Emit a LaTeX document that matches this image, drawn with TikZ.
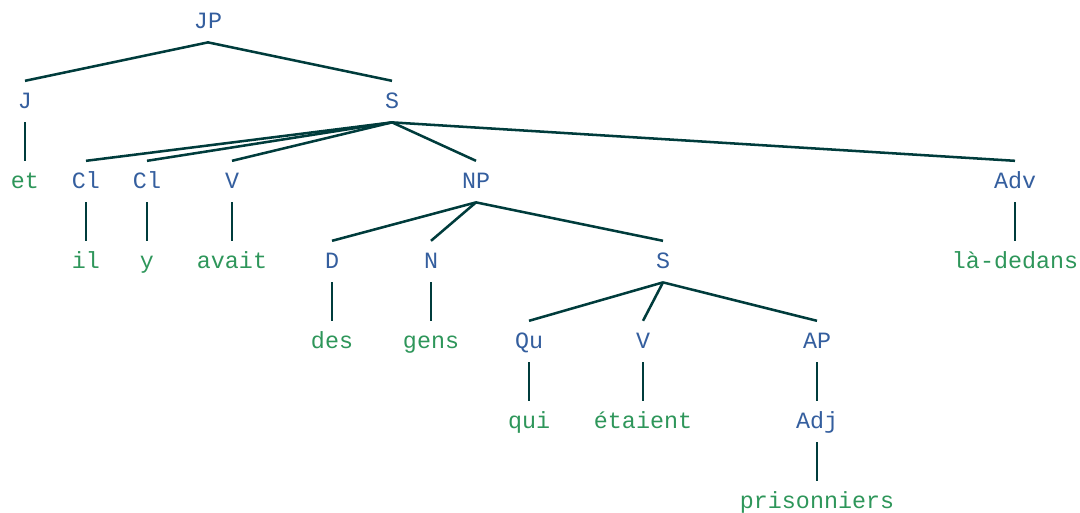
\documentclass[tikz,border=0pt]{standalone}
\usepackage{fontspec}
\setmonofont{Liberation Mono}
\usetikzlibrary{positioning}
\definecolor{catblue}{RGB}{52,94,158}
\definecolor{wordgreen}{RGB}{46,150,90}
\definecolor{branchcol}{RGB}{0,60,60}
\begin{document}
\begin{tikzpicture}[
            t/.style={inner xsep=0pt,inner ysep=0pt,text height=0.675cm,text depth=0.35cm,font=\fontsize{16.6}{20}\selectfont\ttfamily},
            cat/.style={t,text=catblue},
            word/.style={t,text=wordgreen},
            branch/.style={draw=branchcol,line width=1.8pt}
        ]

        \tikzset{
            node distance=20mm,
        }

        \useasboundingbox (0,0) rectangle (27,-12.825);

        \node[cat] (jp) at (5.2,-0.54) {JP};
        \node[cat,below of=jp,xshift=-45.75mm] (j) {J};
        \node[cat,below of=jp,xshift=46mm] (s) {S};
        \node[word,below of=j] (et) {et};
        \node[cat,below of=s,xshift=-76.5mm] (cl1) {Cl};
        \node[cat,below of=s,xshift=-61.25mm] (cl2) {Cl};
        \node[cat,below of=s,xshift=-40mm] (v) {V};
        \node[cat,below of=s,xshift=21mm] (np) {NP};
        \node[cat,below of=s,xshift=155.75mm] (adv) {Adv};
        \node[word,below of=cl1] (il) {il};
        \node[word,below of=cl2] (y) {y};
        \node[word,below of=v] (avait) {avait};
        \node[cat,below of=np,xshift=-36mm] (d) {D};
        \node[cat,below of=np,xshift=-11.25mm] (n) {N};
        \node[cat,below of=np,xshift=46.75mm] (s2) {S};
        \node[word,below of=adv] (ladedans) {là-dedans};
        \node[word,below of=d] (des) {des};
        \node[word,below of=n] (gens) {gens};
        \node[cat,below of=s2,xshift=-33.5mm] (qu) {Qu};
        \node[cat,below of=s2,xshift=-5mm] (v2) {V};
        \node[cat,below of=s2,xshift=38.5mm] (ap) {AP};
        \node[word,below of=qu] (qui) {qui};
        \node[word,below of=v2] (etaient) {étaient};
        \node[cat,below of=ap] (adj) {Adj};
        \node[word,below of=adj] (prisonniers) {prisonniers};

        \draw[branch]
            (jp.south) edge (j.north)
            (jp.south) edge (s.north)
            (j.south) edge (et.north)
            (s.south) edge (cl1.north)
            (s.south) edge (cl2.north)
            (s.south) edge (v.north)
            (s.south) edge (np.north)
            (s.south) edge (adv.north)
            (cl1.south) edge (il.north)
            (cl2.south) edge (y.north)
            (v.south) edge (avait.north)
            (np.south) edge (d.north)
            (np.south) edge (n.north)
            (np.south) edge (s2.north)
            (adv.south) edge (ladedans.north)
            (d.south) edge (des.north)
            (n.south) edge (gens.north)
            (s2.south) edge (qu.north)
            (s2.south) edge (v2.north)
            (s2.south) edge (ap.north)
            (qu.south) edge (qui.north)
            (v2.south) edge (etaient.north)
            (ap.south) edge (adj.north)
            (adj.south) edge (prisonniers.north)
        ;

\end{tikzpicture}
\end{document}
